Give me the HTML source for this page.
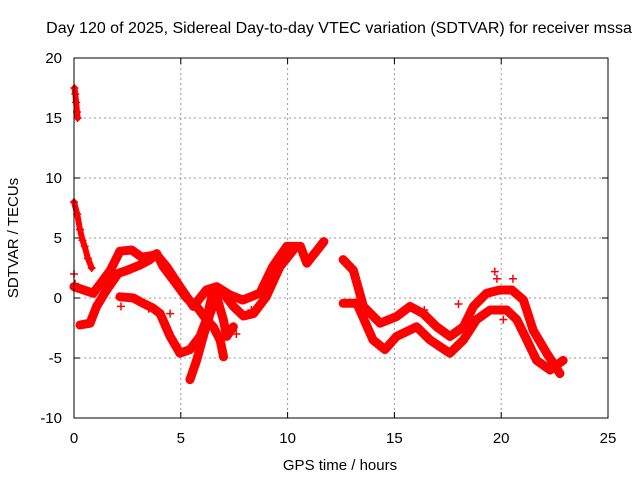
<!DOCTYPE html>
<html><head><meta charset="utf-8"><style>
body{margin:0;background:#fff}
svg text{font-family:"Liberation Sans",sans-serif;font-size:15px;fill:#000}
</style></head><body>
<svg width="640" height="480" xmlns="http://www.w3.org/2000/svg">
<text x="339" y="33" text-anchor="middle" style="font-size:16px">Day 120 of 2025, Sidereal Day-to-day VTEC variation (SDTVAR) for receiver mssa</text>
<text x="340" y="470" text-anchor="middle">GPS time / hours</text>
<text transform="translate(18,238) rotate(-90)" text-anchor="middle">SDTVAR / TECUs</text>
<g id="grid"></g>
<g id="axes"></g>
<g id="marks"></g>
<rect x="74" y="58" width="534" height="360" fill="none" stroke="#000"/>
</svg>
<script>
const xTicks=[0,5,10,15,20,25];
const yTicks=[-10,-5,0,5,10,15,20];
const spike=[[0.02,17.5],[0.06,17],[0.1,16.3],[0.14,15.5],[0.17,15]];
const earlyDrop=[[0,8],[0.15,7],[0.28,5.7],[0.4,4.8],[0.5,4.3],[0.65,3.3],[0.83,2.5]];
const trackA=[[0,0.94],[0.9,0.4],[1.7,2.3],[2.15,3.9],[2.7,4],[3.17,3.4],[3.87,3.6],[4.34,2.6],[4.96,0.94],[5.59,-0.7],[6.2,0.67],[6.68,0.94],[7.3,0.25],[7.9,-0.17],[8.7,0.4],[9.3,2.6],[9.96,4.3],[10.6,4.3],[10.9,2.9],[11.7,4.7]];
const trackB=[[0.28,-2.25],[0.75,-2.1],[1.06,-0.7],[1.53,0.67],[2.07,2.05],[2.47,2.3],[3.09,2.75],[3.56,3.2],[3.87,3.7],[4.18,2.6],[4.65,1.5],[5.27,0],[5.74,-0.7],[6.2,-1.8],[6.52,-2.4],[6.84,-3.5],[7.0,-4.9]];
const trackC=[[2.15,0.1],[2.78,0],[3.24,-0.44],[3.71,-0.86],[4.03,-1.3],[4.5,-3.2],[4.96,-4.6],[5.43,-4.3],[5.9,-3.2],[6.2,-1.8],[6.52,0.67],[6.99,0.4],[7.46,-0.7],[7.93,-1.5],[8.4,-1.3],[9.0,0.1],[9.64,2.6],[10.27,4]];
const trackD=[[5.43,-6.8],[5.74,-5.2],[6.05,-3.2],[6.37,-1.3],[6.68,0.1],[6.99,-1.8],[7.15,-3.2],[7.46,-2.4]];
const trackE=[[12.6,3.2],[13.08,2.3],[13.55,-0.7],[14.33,-2.1],[15.1,-1.55],[15.73,-0.7],[16.35,-1.3],[16.98,-2.4],[17.6,-3.2],[18.23,-2.4],[18.7,-0.7],[19.32,0.4],[19.94,0.67],[20.5,0.67],[21.04,-0.17],[21.5,-2.7],[22.13,-4.6],[22.75,-6.3]];
const trackF=[[12.6,-0.44],[13.24,-0.44],[14.0,-3.5],[14.56,-4.3],[15.1,-3.2],[16.04,-2.4],[16.67,-3.5],[17.6,-4.6],[18.23,-3.5],[18.85,-1.8],[19.48,-1],[20.26,-1],[20.73,-1.8],[21.2,-3.5],[21.66,-5.2],[22.29,-6],[22.9,-5.2]];
const outliers=[[0,2],[0.05,1.2],[2.2,-0.7],[3.5,-0.9],[4.5,-1.3],[7.6,-3],[8.3,-1],[19.7,2.2],[19.8,1.6],[20.55,1.6],[18,-0.5],[16.4,-1],[20.1,-1.8]];
const tracks=[spike,earlyDrop,trackA,trackB,trackC,trackD,trackE,trackF];
const X=h=>74+h*(534/25), Y=v=>418-(v+10)*12;
const NS='http://www.w3.org/2000/svg';
const grid=document.getElementById('grid'),axes=document.getElementById('axes'),marks=document.getElementById('marks');
function mk(t,a,p){const e=document.createElementNS(NS,t);for(const k in a)e.setAttribute(k,a[k]);p.appendChild(e);return e;}
xTicks.forEach(t=>{const x=X(t);
 if(t>0&&t<25){const g=mk('line',{x1:x,x2:x,y1:58,y2:418,stroke:'#999','stroke-dasharray':'2,3'},grid);
 
 }
 mk('line',{x1:x,x2:x,y1:418,y2:412,stroke:'#000'},axes);mk('line',{x1:x,x2:x,y1:58,y2:64,stroke:'#000'},axes);
 const l=mk('text',{x:x,y:443,'text-anchor':'middle'},axes);l.textContent=t;
 
 });
yTicks.forEach(t=>{const y=Y(t);
 if(t>-10&&t<20){const g=mk('line',{x1:74,x2:608,y1:y,y2:y,stroke:'#999','stroke-dasharray':'2,3'},grid);
 
 }
 mk('line',{x1:74,x2:80,y1:y,y2:y,stroke:'#000'},axes);mk('line',{x1:608,x2:602,y1:y,y2:y,stroke:'#000'},axes);
 const l=mk('text',{x:62,y:y+5,'text-anchor':'end'},axes);l.textContent=t;
 
 });
function plus(h,v){const x=X(h),y=Y(v);
 const p=mk('path',{d:`M${x-4},${y}h8M${x},${y-4}v8`,stroke:'#f00','stroke-width':1.5},marks);
 
 }
tracks.forEach((tr,i)=>{
 const pl=mk('polyline',{points:tr.map(d=>X(d[0])+','+Y(d[1])).join(' '),fill:'none',stroke:'#f00','stroke-width':i<2?6:9,'stroke-linejoin':'round','stroke-linecap':'round'},marks);
 
 
 tr.forEach(d=>plus(d[0],d[1]));});
outliers.forEach(d=>plus(d[0],d[1]));
</script>
</body></html>
